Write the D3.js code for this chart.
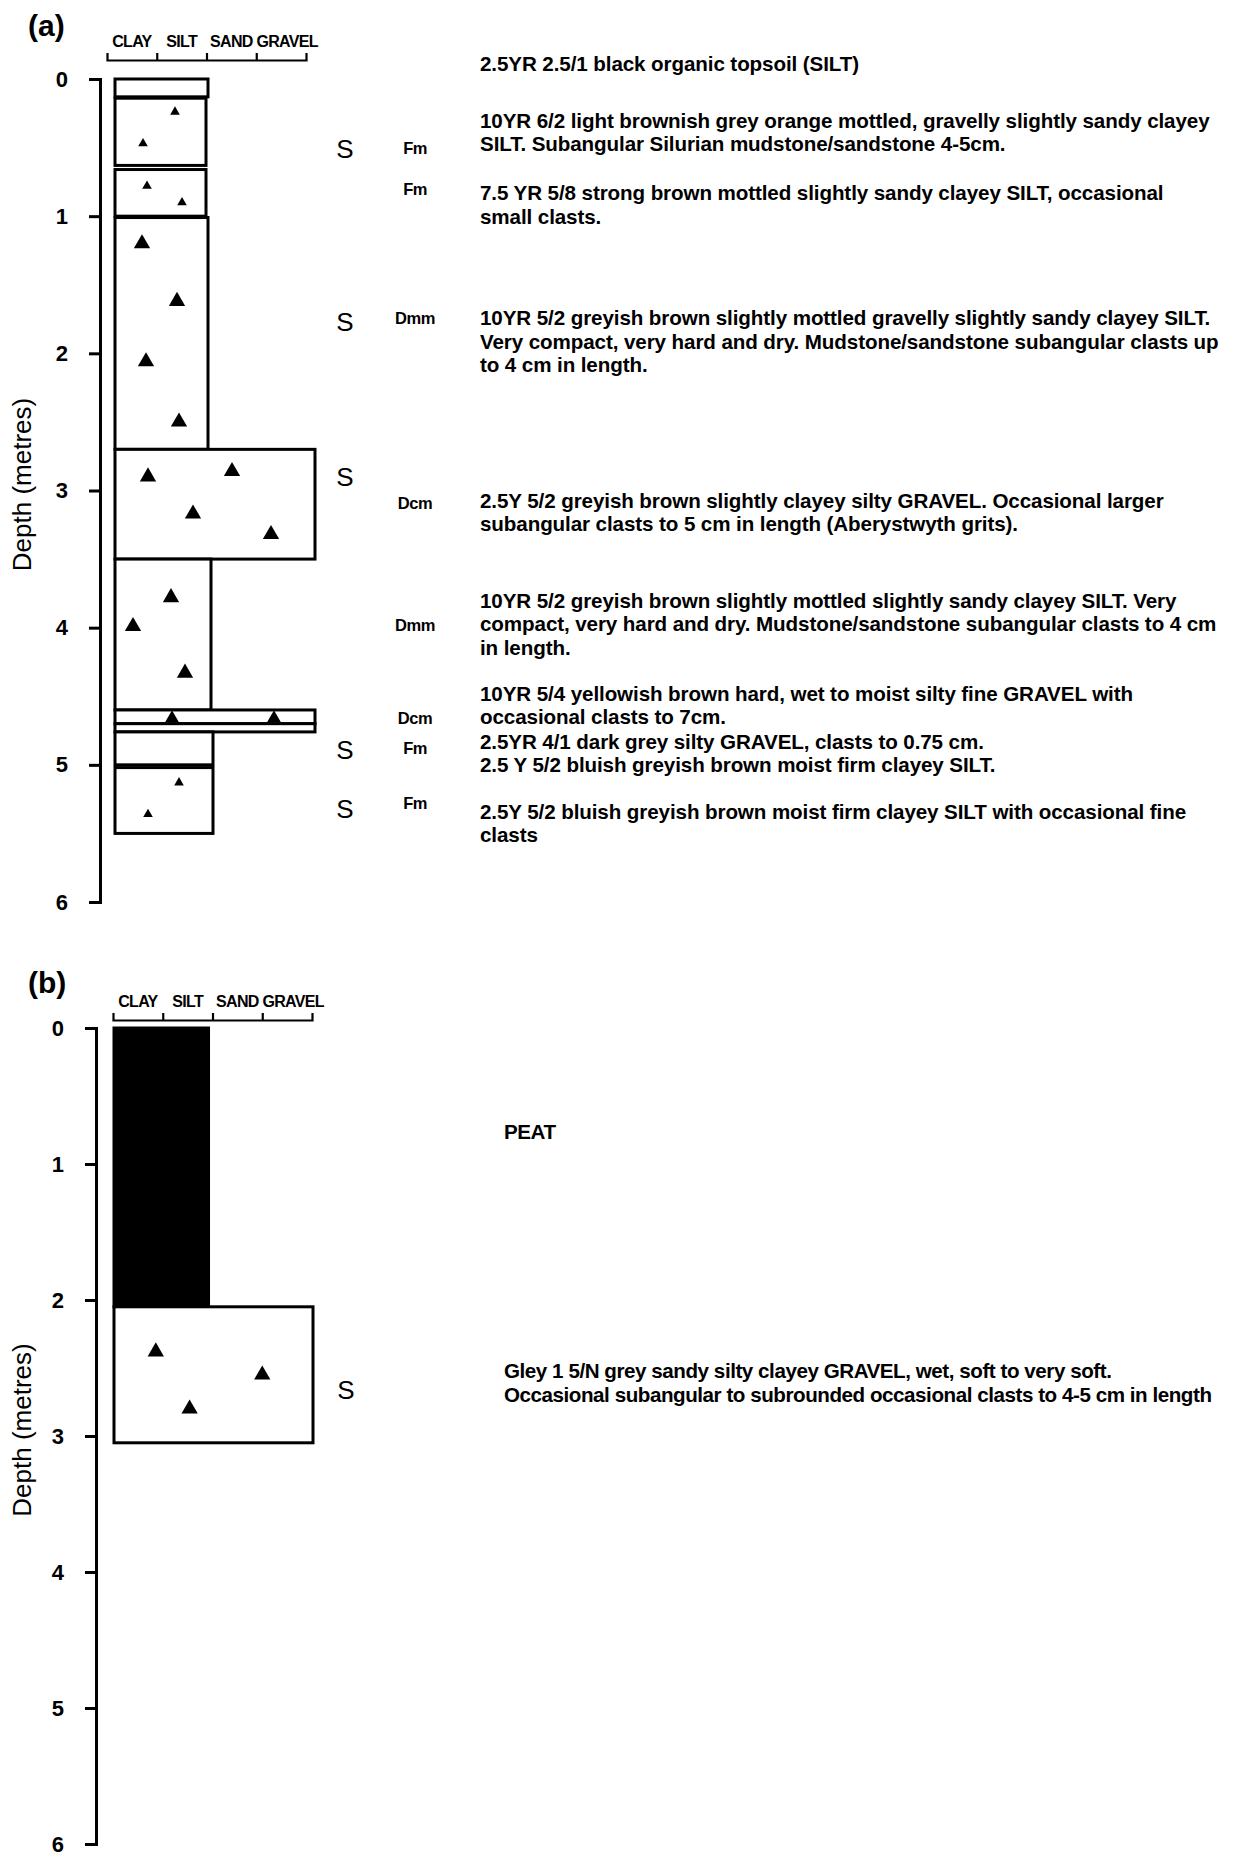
<!DOCTYPE html>
<html><head><meta charset="utf-8">
<script src="https://cdn.jsdelivr.net/npm/d3@7"></script>
<style>body{margin:0;background:#fff}</style>
</head><body>
<script>
// ---------- DATA ----------
const grainLabels = ["CLAY", "SILT", "SAND", "GRAVEL"];
const depthTicks = [0, 1, 2, 3, 4, 5, 6];

// Panel (a) layers: [top m, bottom m, grain extent (0 clay .. 4 gravel), fill]
const layersA = [
  [0.00, 0.13, 1.86, "white"],
  [0.14, 0.63, 1.82, "white"],
  [0.66, 1.00, 1.82, "white"],
  [1.01, 2.70, 1.86, "white"],
  [2.70, 3.50, 4.00, "white"],
  [3.50, 4.60, 1.92, "white"],
  [4.60, 4.70, 4.00, "white"],
  [4.70, 4.76, 4.00, "white"],
  [4.76, 5.00, 1.96, "white"],
  [5.02, 5.50, 1.96, "white"]
];
// Panel (a) clasts: [grain position, depth m, size class]
const clastsA = [
  [1.20, 0.24, "s"], [0.56, 0.47, "s"],
  [0.64, 0.78, "s"], [1.34, 0.90, "s"],
  [0.54, 1.20, "l"], [1.24, 1.62, "l"], [0.62, 2.06, "l"], [1.28, 2.50, "l"],
  [0.66, 2.90, "l"], [2.34, 2.86, "l"], [1.56, 3.17, "l"], [3.12, 3.32, "l"],
  [1.12, 3.78, "l"], [0.36, 3.99, "l"], [1.40, 4.33, "l"],
  [1.14, 4.66, "m"], [3.18, 4.66, "m"],
  [1.28, 5.13, "s"], [0.66, 5.36, "s"]
];
const sedA = [[0.51, "S"], [1.77, "S"], [2.90, "S"], [4.89, "S"], [5.32, "S"]];
const faciesA = [[0.50, "Fm"], [0.80, "Fm"], [1.74, "Dmm"], [3.09, "Dcm"], [3.98, "Dmm"], [4.66, "Dcm"], [4.88, "Fm"], [5.28, "Fm"]];
const descA = [
  [-0.11, ["2.5YR 2.5/1 black organic topsoil (SILT)"]],
  [0.30, ["10YR 6/2 light brownish grey orange mottled, gravelly slightly sandy clayey", "SILT. Subangular Silurian mudstone/sandstone 4-5cm."]],
  [0.83, ["7.5 YR 5/8 strong brown mottled slightly sandy clayey SILT, occasional", "small clasts."]],
  [1.74, ["10YR 5/2 greyish brown slightly mottled gravelly slightly sandy clayey SILT.", "Very compact, very hard and dry. Mudstone/sandstone subangular clasts up", "to 4 cm in length."]],
  [3.07, ["2.5Y 5/2 greyish brown slightly clayey silty GRAVEL. Occasional larger", "subangular clasts to 5 cm in length (Aberystwyth grits)."]],
  [3.80, ["10YR 5/2 greyish brown slightly mottled slightly sandy clayey SILT. Very", "compact, very hard and dry. Mudstone/sandstone subangular clasts to 4 cm", "in length."]],
  [4.48, ["10YR 5/4 yellowish brown hard, wet to moist silty fine GRAVEL with", "occasional clasts to 7cm."]],
  [4.83, ["2.5YR 4/1 dark grey silty GRAVEL, clasts to 0.75 cm."]],
  [5.00, ["2.5 Y 5/2 bluish greyish brown moist firm clayey SILT."]],
  [5.34, ["2.5Y 5/2 bluish greyish brown moist firm clayey SILT with occasional fine", "clasts"]]
];

// Panel (b)
const layersB = [
  [0.00, 2.05, 1.90, "black"],
  [2.05, 3.05, 4.00, "white"]
];
const clastsB = [[0.84, 2.38, "l"], [2.98, 2.55, "l"], [1.52, 2.80, "l"]];
const sedB = [[2.66, "S"]];
const faciesB = [];
const descB = [
  [0.76, ["PEAT"]],
  [2.52, ["Gley 1 5/N grey sandy silty clayey GRAVEL, wet, soft to very soft.", "Occasional subangular to subrounded occasional clasts to 4-5 cm in length"]]
];

// ---------- DRAW ----------
const W = 1233, H = 1859;
const FONT = "'Liberation Sans', Arial, Helvetica, sans-serif";
const svg = d3.select("body").append("svg")
  .attr("width", W).attr("height", H)
  .style("font-family", FONT);

const clastSize = {s: 40, m: 80, l: 115};

function drawPanel(cfg, layers, clasts, sed, facies, desc) {
  const g = svg.append("g");
  const y = d3.scaleLinear().domain([0, 6]).range([cfg.y0, cfg.y1]);
  const xc = d3.scaleLinear().domain([0, 4]).range([cfg.colL, cfg.colR]);
  const xb = d3.scaleLinear().domain([0, 4]).range([cfg.brL, cfg.brR]);

  // panel letter
  g.append("text").attr("x", cfg.letterX).attr("y", cfg.letterY)
    .attr("font-size", 30).attr("font-weight", "bold").text(cfg.letter);

  // grain size bracket
  const gb = g.append("g").attr("transform", `translate(0,${cfg.brY})`)
    .call(d3.axisTop(xb).tickValues([1, 2, 3]).tickSizeInner(7).tickSizeOuter(7).tickFormat(""));
  gb.select(".domain").attr("stroke", "#000").attr("stroke-width", 2.2);
  gb.selectAll(".tick line").attr("stroke", "#000").attr("stroke-width", 2.2);
  g.selectAll("text.grain").data(grainLabels).join("text")
    .attr("class", "grain")
    .attr("x", (d, i) => xb(i + 0.5) + (i === 3 ? 6 : 0))
    .attr("y", cfg.brY - 13)
    .attr("text-anchor", "middle")
    .attr("font-size", 16).attr("font-weight", "bold").attr("letter-spacing", -0.7)
    .text(d => d);

  // depth axis
  const ga = g.append("g").attr("transform", `translate(${cfg.axisX},0)`)
    .call(d3.axisLeft(y).tickValues(depthTicks).tickSize(11).tickPadding(21).tickFormat(d3.format("d")));
  ga.select(".domain").attr("stroke", "#000").attr("stroke-width", 3);
  ga.selectAll(".tick line").attr("stroke", "#000").attr("stroke-width", 3);
  ga.selectAll(".tick text").attr("font-size", 22).attr("font-weight", "bold")
    .attr("font-family", FONT).attr("fill", "#000");

  g.append("text")
    .attr("transform", `translate(${cfg.labelX},${(cfg.y0 + cfg.y1) / 2 - 6}) rotate(-90)`)
    .attr("text-anchor", "middle").attr("font-size", 26).text("Depth (metres)");

  // layers
  g.selectAll("rect.layer").data(layers).join("rect")
    .attr("class", "layer")
    .attr("x", xc(0))
    .attr("y", d => y(d[0]))
    .attr("width", d => xc(d[2]) - xc(0))
    .attr("height", d => y(d[1]) - y(d[0]))
    .attr("fill", d => d[3])
    .attr("stroke", "#000").attr("stroke-width", 3);

  // clasts
  g.selectAll("path.clast").data(clasts).join("path")
    .attr("class", "clast")
    .attr("transform", d => `translate(${xc(d[0])},${y(d[1])})`)
    .attr("d", d => d3.symbol().type(d3.symbolTriangle).size(clastSize[d[2]])())
    .attr("fill", "#000");

  // sediment codes
  g.selectAll("text.sed").data(sed).join("text")
    .attr("class", "sed")
    .attr("x", cfg.sedX).attr("y", d => y(d[0])).attr("dy", "0.36em")
    .attr("text-anchor", "middle").attr("font-size", 26).text(d => d[1]);

  g.selectAll("text.fac").data(facies).join("text")
    .attr("class", "fac")
    .attr("x", cfg.facX).attr("y", d => y(d[0])).attr("dy", "0.36em")
    .attr("text-anchor", "middle").attr("font-size", 16.5).attr("font-weight", "bold")
    .attr("letter-spacing", -0.5).text(d => d[1]);

  // descriptions
  const gd = g.selectAll("text.desc").data(desc).join("text")
    .attr("class", "desc")
    .attr("font-size", 20.6).attr("font-weight", "bold")
    .attr("letter-spacing", cfg.descSpacing);
  gd.each(function (d) {
    d3.select(this).selectAll("tspan").data(d[1]).join("tspan")
      .attr("x", cfg.descX)
      .attr("y", (t, i) => y(d[0]) + i * 23.5)
      .attr("dy", "0.36em")
      .text(t => t);
  });
}

drawPanel({letter: "(a)", letterX: 28, letterY: 36, y0: 79, y1: 902, axisX: 100,
  colL: 115, colR: 315, brL: 107, brR: 306, brY: 60, labelX: 31,
  sedX: 345, facX: 415, descX: 480, descSpacing: -0.1}, layersA, clastsA, sedA, faciesA, descA);

drawPanel({letter: "(b)", letterX: 28, letterY: 993, y0: 1028, y1: 1844, axisX: 96,
  colL: 114, colR: 313, brL: 113, brR: 312, brY: 1020, labelX: 31,
  sedX: 346, facX: 415, descX: 504, descSpacing: -0.45}, layersB, clastsB, sedB, faciesB, descB);
</script>
</body></html>
